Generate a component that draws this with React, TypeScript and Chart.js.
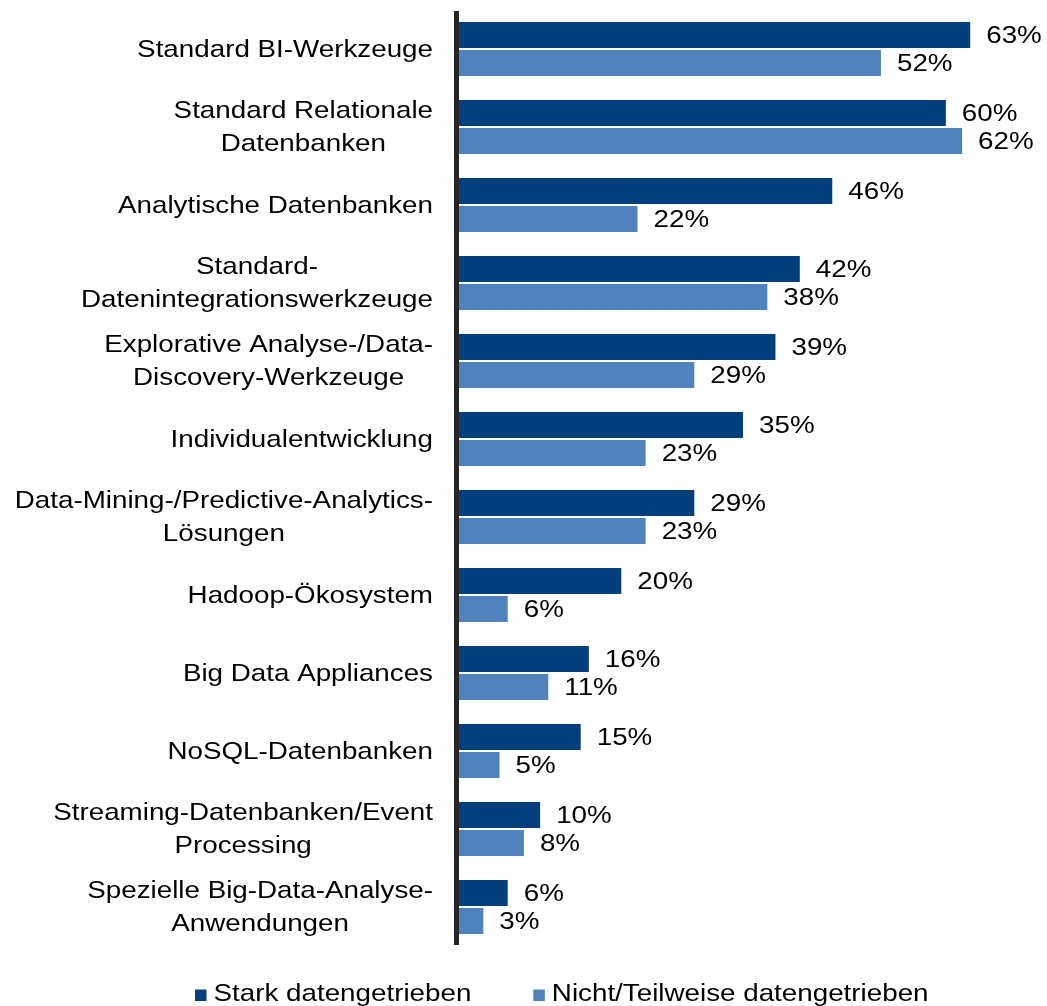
import React, { useEffect, useRef } from "react";
import { Chart, registerables } from "chart.js";

Chart.register(...registerables);

const categories: string[][] = [
  ["Standard BI-Werkzeuge"],
  ["Standard Relationale", "Datenbanken"],
  ["Analytische Datenbanken"],
  ["Standard-", "Datenintegrationswerkzeuge"],
  ["Explorative Analyse-/Data-", "Discovery-Werkzeuge"],
  ["Individualentwicklung"],
  ["Data-Mining-/Predictive-Analytics-", "Lösungen"],
  ["Hadoop-Ökosystem"],
  ["Big Data Appliances"],
  ["NoSQL-Datenbanken"],
  ["Streaming-Datenbanken/Event", "Processing"],
  ["Spezielle Big-Data-Analyse-", "Anwendungen"],
];

const starkValues: number[] = [63, 60, 46, 42, 39, 35, 29, 20, 16, 15, 10, 6];
const nichtValues: number[] = [52, 62, 22, 38, 29, 23, 23, 6, 11, 5, 8, 3];

const seriesLabels: string[] = ["Stark datengetrieben", "Nicht/Teilweise datengetrieben"];
const seriesColors: string[] = ["#033E7D", "#5083BE"];

const FONT_FAMILY = "'Liberation Sans', Arial, sans-serif";
const FONT_SIZE = 24.8;
const SX = 1.12;

function drawText(
  ctx: CanvasRenderingContext2D,
  text: string,
  x: number,
  y: number,
  align: CanvasTextAlign,
  baseline: CanvasTextBaseline
) {
  ctx.save();
  ctx.translate(x, y);
  ctx.scale(SX, 1);
  ctx.textAlign = align;
  ctx.textBaseline = baseline;
  ctx.fillText(text, 0, 0);
  ctx.restore();
}

const customDraw = {
  id: "customDraw",
  afterDatasetsDraw(chart: any) {
    const ctx: CanvasRenderingContext2D = chart.ctx;
    const area = chart.chartArea;
    const yScale = chart.scales.y;
    ctx.save();
    ctx.font = `${FONT_SIZE}px ${FONT_FAMILY}`;

    // axis line
    ctx.fillStyle = "#262626";
    ctx.fillRect(area.left - 5, area.top + 1, 5, area.bottom - area.top - 2);
    ctx.fillStyle = "#000";

    // category labels (lines centered with each other, block right-aligned)
    const labels = chart.data.labels as string[][];
    const rightEdge = area.left - 26;
    const lineH = 33;
    labels.forEach((lines, i) => {
      const yc = yScale.getPixelForTick(i);
      const widths = lines.map((l) => ctx.measureText(l).width * SX);
      const blockW = Math.max(...widths);
      const cx = rightEdge - blockW / 2;
      const n = lines.length;
      lines.forEach((l, j) => {
        const yy = yc + (j - (n - 1) / 2) * lineH;
        drawText(ctx, l, cx, yy + 1, "center", "middle");
      });
    });

    // data labels
    chart.data.datasets.forEach((ds: any, di: number) => {
      const meta = chart.getDatasetMeta(di);
      meta.data.forEach((bar: any, i: number) => {
        drawText(ctx, `${ds.data[i]}%`, bar.x + 16, bar.y + 1, "left", "middle");
      });
    });

    // legend
    let x = 195;
    const boxY = 989.5;
    const baseY = 1001;
    chart.data.datasets.forEach((ds: any) => {
      ctx.fillStyle = ds.backgroundColor;
      ctx.fillRect(x, boxY, 11.5, 11.5);
      x += 11.5 + 7;
      ctx.fillStyle = "#000";
      drawText(ctx, ds.label, x, baseY, "left", "alphabetic");
      x += ctx.measureText(ds.label).width * SX + 62;
    });
    ctx.restore();
  },
};

export default function App() {
  const ref = useRef<HTMLCanvasElement | null>(null);
  useEffect(() => {
    if (!ref.current) return;
    const chart = new Chart(ref.current, {
      type: "bar",
      data: {
        labels: categories,
        datasets: [
          {
            label: seriesLabels[0],
            data: starkValues,
            backgroundColor: seriesColors[0],
            categoryPercentage: 0.718,
            barPercentage: 0.9286,
          },
          {
            label: seriesLabels[1],
            data: nichtValues,
            backgroundColor: seriesColors[1],
            categoryPercentage: 0.718,
            barPercentage: 0.9286,
          },
        ],
      },
      options: {
        indexAxis: "y",
        animation: false,
        responsive: false,
        maintainAspectRatio: false,
        devicePixelRatio: 1,
        layout: { padding: { top: 10, bottom: 60, left: 0, right: 20 } },
        plugins: {
          legend: { display: false },
          tooltip: { enabled: false },
        },
        scales: {
          x: { display: false, min: 0, max: 70 },
          y: {
            grid: { display: false },
            border: { display: false },
            ticks: { display: false },
            afterFit: (s: any) => {
              s.width = 459;
            },
          },
        },
      },
      plugins: [customDraw],
    } as any);
    return () => chart.destroy();
  }, []);
  return (
    <div style={{ position: "absolute", left: 0, top: 0, width: 1047, height: 1006, background: "#fff" }}>
      <canvas ref={ref} width={1047} height={1006} />
    </div>
  );
}
